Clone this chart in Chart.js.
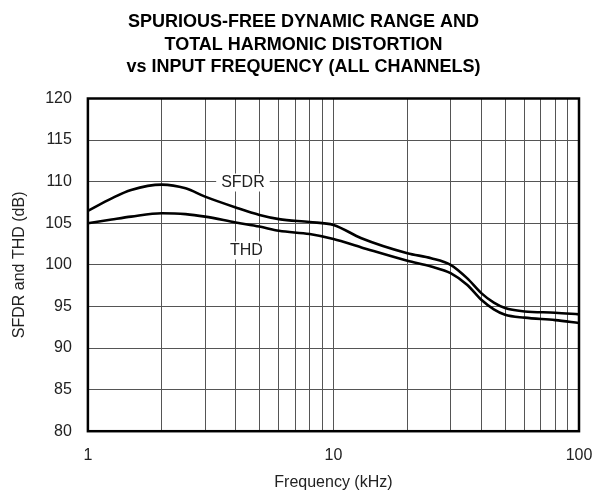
<!DOCTYPE html>
<html>
<head>
<meta charset="utf-8">
<script src="https://cdn.jsdelivr.net/npm/chart.js@4"></script>
<style>
  html, body { margin: 0; padding: 0; background: #fff; }
  #wrap { width: 597px; height: 494px; }
</style>
</head>
<body>
<div id="wrap"><canvas id="sfdr-chart" width="597" height="494"></canvas></div>
<script>
// frequency in kHz
var freq = [1, 1.25, 1.5, 2, 2.5, 3, 4, 5, 6, 8, 10, 13, 20, 25, 30, 35, 40, 45, 50, 60, 80, 100];
var sfdr = [106.5, 108.0, 109.0, 109.65, 109.2, 108.2, 106.9, 106.0, 105.5, 105.15, 104.8, 103.2, 101.4, 100.8, 100.0, 98.4, 96.6, 95.45, 94.8, 94.4, 94.25, 94.05];
var thd  = [105.0, 105.45, 105.8, 106.2, 106.1, 105.8, 105.1, 104.6, 104.1, 103.7, 103.1, 102.1, 100.5, 99.8, 99.0, 97.6, 95.8, 94.65, 94.0, 93.65, 93.35, 93.0];

var xTicks = [1, 2, 3, 4, 5, 6, 7, 8, 9, 10, 20, 30, 40, 50, 60, 70, 80, 90, 100];
var xLabels = [1, 10, 100];

var curveLabels = [
  { text: 'SFDR', x: 4.28, y: 109.9 },
  { text: 'THD', x: 4.42, y: 101.73 }
];

var FONT = '"Liberation Sans", Arial, Helvetica, sans-serif';

function toPoints(ys) {
  return freq.map((f, i) => ({ x: f, y: ys[i] }));
}

var frameAndLabels = {
  id: 'frameAndLabels',
  beforeDatasetsDraw(chart) {
    var ctx = chart.ctx;
    var xs = chart.scales.x, ys = chart.scales.y;
    ctx.save();
    ctx.font = '16px ' + FONT;
    ctx.textAlign = 'center';
    ctx.textBaseline = 'middle';
    curveLabels.forEach((l) => {
      var px = xs.getPixelForValue(l.x);
      var py = ys.getPixelForValue(l.y);
      var w = ctx.measureText(l.text).width;
      ctx.fillStyle = '#fff';
      ctx.fillRect(px - w / 2 - 5, py - 9, w + 10, 18);
      ctx.fillStyle = '#222';
      ctx.fillText(l.text, px, py);
    });
    ctx.restore();
  },
  afterDatasetsDraw(chart) {
    var a = chart.chartArea;
    var ctx = chart.ctx;
    ctx.save();
    ctx.strokeStyle = '#000';
    ctx.lineWidth = 2.5;
    ctx.strokeRect(a.left, a.top, a.right - a.left, a.bottom - a.top);
    ctx.restore();
  }
};

var chart = new Chart(document.getElementById('sfdr-chart').getContext('2d'), {
  type: 'line',
  data: {
    datasets: [{
      label: 'SFDR',
      data: toPoints(sfdr),
      borderColor: '#000',
      borderWidth: 2.6,
      pointRadius: 0,
      fill: false,
      cubicInterpolationMode: 'monotone'
    }, {
      label: 'THD',
      data: toPoints(thd),
      borderColor: '#000',
      borderWidth: 2.6,
      pointRadius: 0,
      fill: false,
      cubicInterpolationMode: 'monotone'
    }]
  },
  options: {
    responsive: false,
    animation: false,
    layout: { padding: { top: 11, right: 0, bottom: 2, left: 10 } },
    plugins: {
      legend: { display: false },
      tooltip: { enabled: false },
      title: {
        display: true,
        text: ['SPURIOUS-FREE DYNAMIC RANGE AND', 'TOTAL HARMONIC DISTORTION', 'vs INPUT FREQUENCY (ALL CHANNELS)'],
        color: '#000',
        font: { family: FONT, size: 18, weight: 'bold', lineHeight: 1.25 },
        padding: { top: 0, bottom: 20 }
      }
    },
    scales: {
      x: {
        type: 'logarithmic',
        min: 1,
        max: 100,
        afterBuildTicks: (scale) => {
          scale.ticks = xTicks.map((v) => ({ value: v }));
        },
        afterFit: (scale) => {
          scale.paddingRight = 18;
          scale.paddingLeft = 0;
        },
        ticks: {
          autoSkip: false,
          maxRotation: 0,
          color: '#222',
          font: { family: FONT, size: 16 },
          padding: 15,
          callback: (v) => (xLabels.indexOf(v) >= 0 ? String(v) : '')
        },
        grid: { color: '#555', lineWidth: 1, drawTicks: false },
        border: { display: false },
        title: {
          display: true,
          text: 'Frequency (kHz)',
          color: '#222',
          font: { family: FONT, size: 16 },
          padding: { top: -7.6, bottom: 0 }
        }
      },
      y: {
        min: 80,
        max: 120,
        ticks: {
          stepSize: 5,
          color: '#222',
          font: { family: FONT, size: 16 },
          padding: 16
        },
        grid: { color: '#555', lineWidth: 1, drawTicks: false },
        border: { display: false },
        title: {
          display: true,
          text: 'SFDR and THD (dB)',
          color: '#222',
          font: { family: FONT, size: 16 },
          padding: { top: 0, bottom: 0 }
        }
      }
    }
  },
  plugins: [frameAndLabels]
});
</script>
</body>
</html>
